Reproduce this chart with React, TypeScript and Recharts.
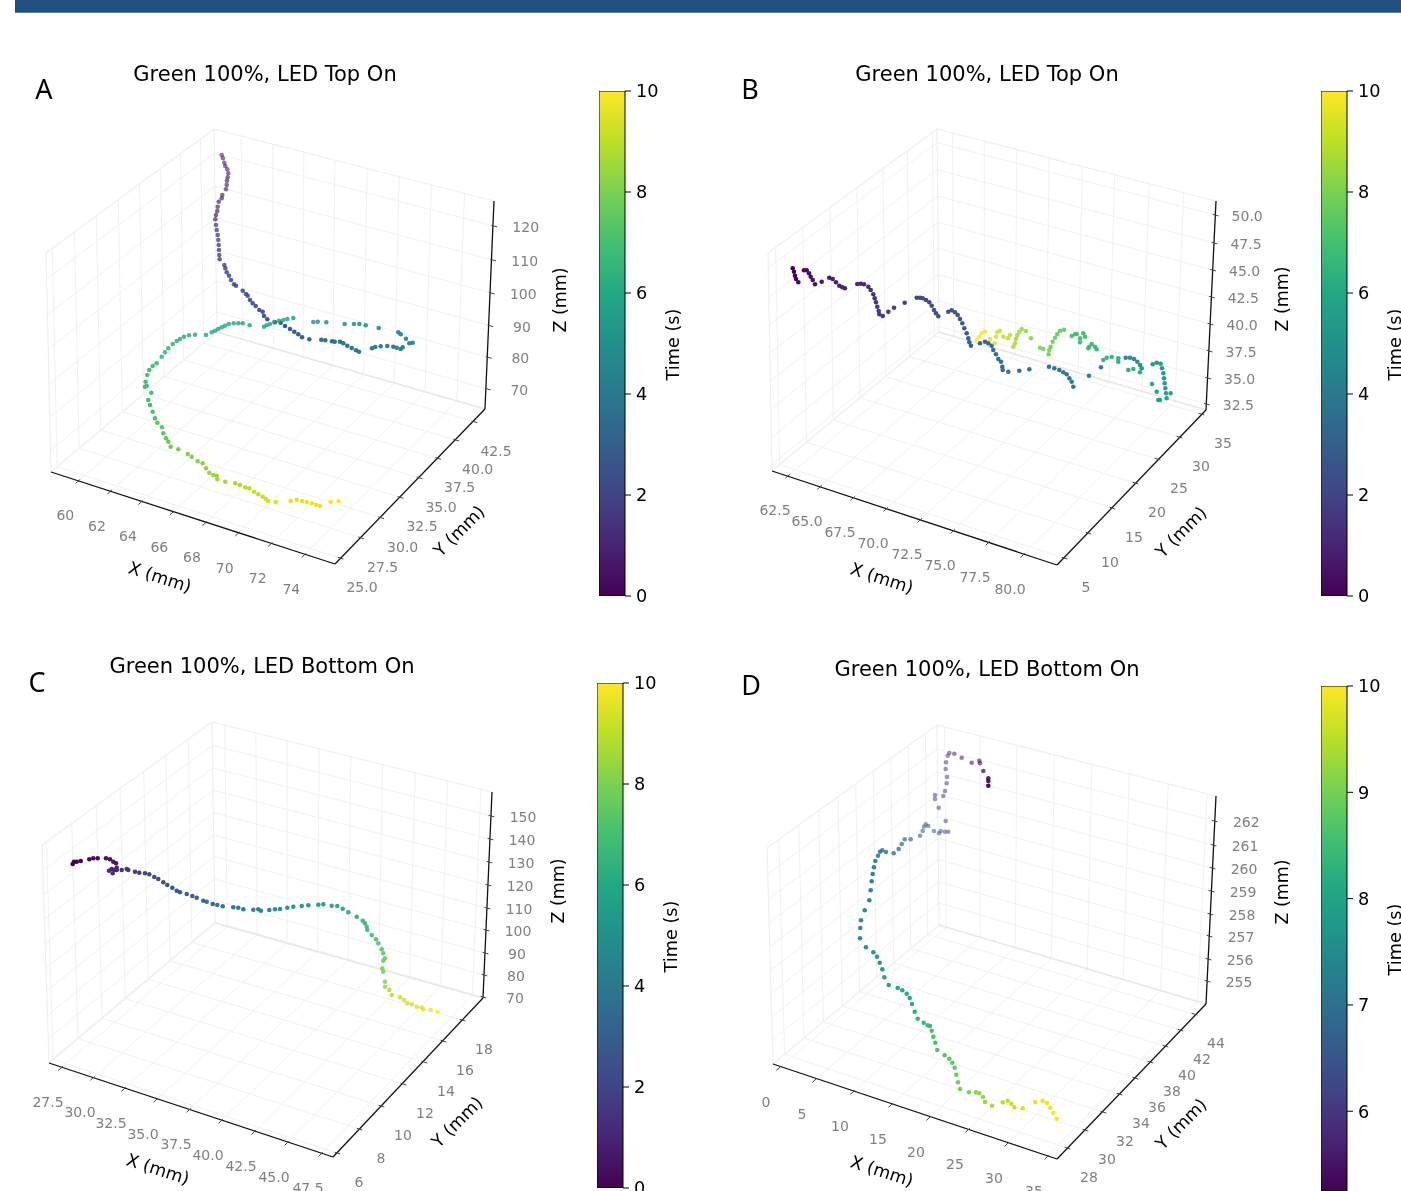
import React from "react";
import {
  Bar,
  BarChart,
  ReferenceArea,
  ReferenceDot,
  ReferenceLine,
  Scatter,
  ScatterChart,
  XAxis,
  YAxis,
} from "recharts";

type Pt = number[];

const W = 1401;
const H = 1191;
const FONT = "'DejaVu Sans', sans-serif";

const viridis = ["#440154", "#482475", "#414487", "#355f8d", "#2a788e", "#21918c", "#22a884", "#44bf70", "#7ad151", "#bddf26", "#fde725"];

// tracks: [x on the page plane, y on the page plane, time in s]
const trackA: Pt[] = [
  [221.7,155,0],[223,158.3,.1],[224.3,162.7,.2],[225.3,166,.3],[227.3,169.3,.4],[228.3,173.3,.5],[227.7,177.3,.6],[227,180.7,.7],[226.7,185,.8],[226,189.3,.9],
  [222.3,195,1],[221.7,198.3,1.05],[218.7,201.7,1.1],[217.7,206.7,1.15],[217.3,211,1.2],[216,215,1.25],[215.3,219.3,1.3],[216,225,1.35],[216.7,230,1.4],[217.7,235,1.45],
  [218.3,240,1.5],[218.7,245,1.55],[219,250,1.6],[219.3,255,1.65],[219.7,259.3,1.7],[224.3,265,1.85],[225.3,268.3,1.9],[226.7,272.3,1.95],[229,275.7,2],[231,280,2.05],
  [234,284.3,2.1],[236,285.7,2.15],[242.7,290.7,2.3],[246,294,2.35],[247.7,295.7,2.4],[250,300,2.45],[252.7,303.3,2.5],[255.7,306,2.55],[259.3,310,2.6],[262.7,311.7,2.7],
  [264,316,2.75],[267.3,319.3,2.8],[275,322.3,2.95],[280.7,322.7,3],[285,326,3.05],[290,329,3.1],[294.3,331.7,3.15],[298.3,334.3,3.2],[302,337.3,3.25],[309.3,339.3,3.35],
  [321.3,339.7,3.45],[325.3,340.3,3.5],[332,341.3,3.55],[334.7,341.7,3.6],[340,341.7,3.65],[343.3,343.3,3.7],[347.3,345.7,3.75],[351.7,348,3.8],[356,350.3,3.85],[359,351.7,3.9],
  [372,348.3,4],[375.3,347,4.05],[380.7,346.3,4.1],[387.3,346,4.15],[393.3,346.7,4.2],[396.7,347.7,4.25],[400.7,349,4.3],[402.7,347.3,4.35],[409.3,343.3,4.45],[412.7,342.7,4.5],
  [406,338.7,4.55],[400.7,334.3,4.6],[398.3,332.3,4.65],[378.7,328,4.8],[365.7,325.3,4.9],[359.3,324,4.95],[354,324,5],[344.7,324,5.05],[326.3,322.3,5.15],[317.7,321.7,5.2],
  [313.3,322,5.25],[293.3,318,5.4],[287.3,319,5.45],[283.3,320,5.5],[279,320.7,5.55],[274.3,322,5.6],[270,324,5.65],[266.7,325.3,5.7],[264,326.7,5.72],[249.7,325.3,5.8],
  [242.7,323.3,5.85],[238.3,323.3,5.88],[233.7,323.3,5.92],[228.7,324,5.95],[225,325.7,5.97],[221.7,327.3,6],[218.3,329,6.02],[215,330.7,6.05],[211.7,332.3,6.07],[206,335,6.12],
  [195,334.7,6.2],[189,335.3,6.25],[184,336.7,6.3],[180,339,6.33],[176.7,341,6.37],[172.7,344,6.4],[168.3,348.3,6.45],[165,352.3,6.5],[161.7,356.7,6.55],[156.7,363.3,6.6],
  [152.7,366,6.68],[149.3,370,6.72],[147.3,375,6.76],[145.7,381.7,6.8],[145,386.7,6.83],[146.7,386,6.85],[151.3,392.7,6.95],[148.3,400,7.05],[150,405,7.12],[152.7,411.7,7.2],
  [155,418.3,7.3],[157.3,422.7,7.4],[162,427.3,7.5],[163.3,433.3,7.58],[166,438.3,7.65],[168.3,441.7,7.72],[170.7,446.7,7.8],[178.3,449.3,8],[187.7,454,8.12],[191.7,456.7,8.17],
  [197.7,461.3,8.25],[202.7,463.3,8.3],[206,468.3,8.38],[209.3,472.7,8.42],[213.3,475,8.46],[216.7,475.7,8.5],[217.3,479.3,8.55],[225.3,481.7,8.65],[235.3,483.3,8.75],[240,485,8.85],
  [245.3,487.3,8.95],[249.3,488.3,9],[254,491.7,9.08],[258.3,494.3,9.15],[262.7,496.7,9.2],[266,499,9.25],[268,501,9.3],[275.7,502,9.38],[290.7,501,9.5],[296.7,499.7,9.55],
  [302,501,9.62],[306.7,502,9.67],[311.7,503.3,9.72],[316,504.7,9.78],[320,506,9.82],[330.7,502,9.92],[338.7,501.3,10],
];

const trackB: Pt[] = [
  [792.7,268.3,0],[794,271.7,.05],[795,275.7,.1],[796,279,.15],[798.3,282.3,.2],[804,270.3,.3],[806.7,270.3,.35],[809,273.3,.4],[810.7,276.7,.45],[812.7,280,.5],
  [815,284.3,.55],[821.7,281.7,.65],[829.3,277.7,.75],[832.7,279,.8],[836,282.3,.85],[839.3,285.7,.9],[842.3,287.3,.95],[845,288.3,1],[857.3,284,1.1],[860.7,283.7,1.12],
  [864,284.3,1.15],[868.3,286.7,1.2],[870.7,290,1.25],[873.3,294.3,1.3],[874.7,298.3,1.35],[876,302.3,1.4],[877.3,306.7,1.45],[878.7,311,1.5],[879.3,314.3,1.55],[882.7,316,1.6],
  [888.3,311.7,1.7],[894,307.7,1.75],[904.7,302.7,1.85],[916.7,297.7,1.95],[920,297.7,2],[922.7,298.3,2.05],[926,300,2.1],[929.3,302.3,2.15],[931.7,305.7,2.2],[934,310,2.25],
  [936,313.3,2.3],[938.3,316.3,2.35],[948.3,311.7,2.45],[951.7,310.3,2.5],[955,312.3,2.55],[957.7,315,2.6],[960,319,2.65],[962.3,323.3,2.7],[964.3,328.3,2.75],[966.7,333.3,2.8],
  [968.3,338.3,2.85],[969.3,342.3,2.9],[971,345.7,2.95],[980,343.3,3.05],[985,341.7,3.1],[988.3,343.3,3.15],[991.7,345.7,3.2],[993.3,350,3.25],[996,354.3,3.3],[998.3,359,3.35],
  [1001,361.7,3.4],[1002.3,366.7,3.45],[1002.7,370,3.5],[1008.3,371.7,3.55],[1019.3,370.7,3.6],[1029.3,369.3,3.65],[1049,366.7,3.7],[1054.3,368.3,3.72],[1059.3,370,3.75],[1063.3,372.3,3.78],
  [1066.7,374.3,3.8],[1069.3,378.3,3.85],[1071.7,381.7,3.9],[1073.3,386.7,3.95],[1089,375.7,4.05],[1101,367.3,4.2],[1125.7,357.7,4.5],[1130,357.7,4.52],[1134,359,4.55],[1137.3,361.7,4.6],
  [1140,365,4.65],[1141.7,368.3,4.7],[1152.7,364.3,5],[1156.7,362.7,5.02],[1160.7,363.7,5.05],[1162,368.3,5.1],[1163.3,373.3,5.15],[1164,378.3,5.2],[1164.7,383.3,5.25],[1165.3,388.3,5.3],
  [1166,393.3,5.35],[1166.7,398.3,5.4],[1158.3,400,5.45],[1160,400,5.47],[1170.7,393.3,5.5],[1156.7,391.7,5.6],[1152,384,5.7],[1140,372.3,5.9],[1133.3,369,5.95],[1128.3,370,6],
  [1118.3,358.3,6.1],[1118.3,361.7,6.1],[1111.7,357,6.2],[1106.7,357.7,6.25],[1103.3,360,6.3],[1096.7,349.3,6.5],[1095,346.7,6.55],[1091.7,344,6.6],[1088.3,348.3,6.65],[1089.3,346.7,6.65],
  [1080,342.3,6.75],[1085,336.7,6.78],[1083.3,333.3,6.8],[1080,338.3,6.85],[1076.7,334,6.9],[1075,334.3,6.92],[1071.7,336,6.95],[1064,329.7,7.5],[1060,330.7,7.55],[1057.3,334,7.6],
  [1055,337.7,7.65],[1052.7,341.7,7.7],[1050.7,346.7,7.75],[1049.3,350,7.8],[1048.7,354.3,7.85],[1043.3,349,7.95],[1040,347.7,8],[1031,338.3,8.15],[1026,331,8.4],[1021.7,329,8.45],
  [1019.3,331.7,8.5],[1017.3,335,8.55],[1016,339,8.6],[1015,343.3,8.65],[1013.3,346.7,8.7],[1010,335,8.9],[1007.7,338.3,8.95],[1003.3,336.7,9],[1000,330.7,9.2],[997.3,332.3,9.25],
  [996,336.7,9.3],[994.7,343.3,9.35],[990,339,9.5],[985,331.7,9.8],[981.7,333.3,9.85],[979.3,336.7,9.9],[976.7,340,10],
];

const trackC: Pt[] = [
  [72.7,864,0],[74,861.7,.05],[76.7,861.7,.1],[80.7,861,.15],[89.3,859.3,.25],[93.3,858.3,.3],[97.7,858.3,.35],[106,858.3,.5],[110,859.3,.55],[113.3,861.7,.6],
  [116,863.3,.65],[116.7,867.7,.75],[115,870,.85],[111.7,869,.95],[109,870.7,1.05],[112.7,873.3,1.15],[116.7,870,1.25],[121.7,870,1.35],[126.7,869,1.5],[128.3,870,1.55],
  [135,871.7,1.7],[139.3,872.7,1.8],[145,873.3,1.9],[149.3,874.3,2],[154.3,877,2.1],[158.3,879,2.2],[163.3,882.3,2.3],[167.3,885,2.4],[172.3,887.7,2.5],[176.7,890.7,2.6],
  [180,892.3,2.7],[186.7,894,2.85],[192.3,896,3],[196.7,897.7,3.1],[203.3,900.7,3.25],[206.7,901.7,3.3],[212.7,904,3.45],[217.3,905,3.55],[222.7,906.3,3.65],[233.3,907.3,3.85],
  [238.3,907.7,3.95],[243.3,909.3,4.05],[253.3,909.7,4.25],[258.3,909.3,4.35],[261,910.7,4.45],[269.3,910,4.6],[275,909.3,4.7],[280,909,4.8],[287.3,907.7,4.95],[293.3,906.7,5.05],
  [301.7,906,5.2],[308.3,905.3,5.3],[318.3,904.7,5.45],[323.3,904.3,5.55],[331.7,905.7,5.7],[337.3,906,5.8],[342.7,908.7,5.9],[348.3,912.3,6.05],[356.7,916.7,6.25],[362.7,920.7,6.4],
  [365,923.3,6.5],[366.7,926.7,6.6],[367.3,930,6.7],[371.7,935,6.85],[376,939.3,7],[378.3,943.3,7.1],[381.7,949.3,7.25],[383.3,953.3,7.35],[385,958.3,7.5],[383.3,960.7,7.6],
  [382.3,968.3,7.9],[383.3,971.7,8],[385,981.7,8.3],[385,986.7,8.5],[389.3,990,8.7],[391.7,995,8.85],[400,997.3,9.05],[404,1000,9.15],[407.3,1003.3,9.25],[411.7,1004.3,9.3],
  [416.7,1006.7,9.45],[421.7,1007.3,9.55],[423.3,1009.3,9.6],[430.7,1010,9.8],[437.7,1011.7,9.98],
];

const trackD: Pt[] = [
  [988.3,785.7,5.27],[988.3,781,5.28],[988.3,778.3,5.29],[983.3,771,5.35],[980,763.3,5.4],[979.3,760.7,5.42],[971.7,762.7,5.48],[961.7,757.7,5.55],[954.3,753.7,5.6],[949.3,753,5.65],
  [947.7,755.7,5.7],[946,762.3,5.75],[945.7,769,5.8],[947,777,5.85],[946.7,783.3,5.9],[945,791,5.95],[943.3,796,6],[935,795,6.05],[935,799,6.08],[938.7,807.7,6.15],
  [945.7,821,6.2],[948.3,831.7,6.25],[945,831.7,6.28],[940.7,831,6.32],[939,833.3,6.35],[934,831,6.4],[928.3,826,6.45],[925.7,824.3,6.48],[924,826.7,6.5],[922.7,831,6.55],
  [920,835.7,6.6],[910.7,839.3,6.7],[904.7,839.3,6.75],[901.7,844,6.8],[898.7,849,6.85],[893.7,853.3,6.9],[886,852,6.95],[882.3,850.3,7],[880,851.7,7.03],[878,855.7,7.05],
  [875.3,861,7.1],[874,867.3,7.15],[872.7,874,7.2],[871.7,881.3,7.25],[870.7,890.3,7.3],[869.3,900.3,7.35],[864.7,910.3,7.4],[861,920.3,7.45],[860.3,928,7.47],[860,938.3,7.5],
  [866,947.3,7.55],[873.3,952.3,7.6],[877,956.7,7.65],[879.7,962.7,7.7],[882.3,969.3,7.75],[884.3,977.3,7.85],[888.7,985,7.95],[897.7,988,8],[902.3,990.3,8.05],[906.7,993.7,8.1],
  [909.7,998,8.15],[912,1004,8.2],[914.7,1011.7,8.25],[917.7,1018.7,8.3],[923.7,1022.7,8.35],[927.7,1025.3,8.4],[930,1026,8.45],[931.7,1030.7,8.5],[933.3,1036.7,8.55],[935.3,1042.7,8.6],
  [937.3,1050,8.65],[944.7,1055.3,8.7],[949.3,1058.7,8.75],[952.3,1062.7,8.8],[954.7,1067.7,8.85],[956.3,1074.7,8.9],[958,1082.3,8.95],[960,1089,9],[969,1092.3,9.05],[976,1092.3,9.15],
  [979.3,1093.3,9.2],[983,1097,9.25],[985,1102,9.3],[992,1105.7,9.4],[1002.7,1102.3,9.5],[1007.7,1100.7,9.55],[1011.3,1103.7,9.6],[1014.3,1107.3,9.65],[1022.7,1108.3,9.7],[1035.3,1102,9.8],
  [1042.7,1100.7,9.85],[1047,1103,9.9],[1050.3,1107.7,9.93],[1053.3,1112.7,9.97],[1056.7,1118.7,10],
];

const xLabelsA = ["60", "62", "64", "66", "68", "70", "72", "74"];
const yLabelsA = ["25.0", "27.5", "30.0", "32.5", "35.0", "37.5", "40.0", "42.5"];
const zLabelsA = ["70", "80", "90", "100", "110", "120"];
const xLabelsB = ["62.5", "65.0", "67.5", "70.0", "72.5", "75.0", "77.5", "80.0"];
const yLabelsB = ["5", "10", "15", "20", "25", "30", "35"];
const zLabelsB = ["32.5", "35.0", "37.5", "40.0", "42.5", "45.0", "47.5", "50.0"];
const xLabelsC = ["27.5", "30.0", "32.5", "35.0", "37.5", "40.0", "42.5", "45.0", "47.5"];
const yLabelsC = ["6", "8", "10", "12", "14", "16", "18"];
const zLabelsC = ["70", "80", "90", "100", "110", "120", "130", "140", "150"];
const xLabelsD = ["0", "5", "10", "15", "20", "25", "30", "35"];
const yLabelsD = ["28", "30", "32", "34", "36", "38", "40", "42", "44"];
const zLabelsD = ["255", "256", "257", "258", "259", "260", "261", "262"];

const timeTicks = [0, 2, 4, 6, 8, 10];
const timeTicksD = [6, 7, 8, 9, 10];

const panels = [
  {
    letter: "A", letterAt: [44, 88], title: "Green 100%, LED Top On", titleAt: [265, 74],
    track: trackA, tMin: 0, tMax: 10, fade: [[0, .55], [1.8, .8], [3, 1], [4.5, .95], [5.5, .8], [6.5, .85], [7, 1], [10, 1]],
    fl: [51, 472], fr: [335, 564], br: [485, 409], bl: [217, 332], blt: [214, 129], rt: [494, 201], lt: [46, 253],
    xAt: [[78.3,481],[110,491.7],[141,502.3],[172.3,512.7],[205,523.3],[237.7,533.7],[270.7,544],[304.3,555]],
    yAt: [[340,558],[360.7,537.7],[380.7,517.7],[400,497.3],[419,477.7],[437.7,458.3],[455.7,440],[474,421.7]],
    zAt: [[487.3,389],[488.3,357.3],[490,325.7],[491.3,293],[492.7,260],[493.7,226]],
    xLabels: xLabelsA, yLabels: yLabelsA, zLabels: zLabelsA,
    xNameAt: [160, 577], yNameAt: [459, 531], zNameAt: [560, 300],
    bar: { x: 599, y: 91, ticks: timeTicks },
  },
  {
    letter: "B", letterAt: [750, 88], title: "Green 100%, LED Top On", titleAt: [987, 74],
    track: trackB, tMin: 0, tMax: 10, fade: [[0, 1], [5, .95], [8, .9], [10, .8]],
    fl: [772, 471], fr: [1057, 565], br: [1206, 410], bl: [939, 332], blt: [937, 129], rt: [1216, 201], lt: [768, 253],
    xAt: [[788,476],[820,487],[853,498],[886,509],[920,520],[953,531],[988,543],[1023,555]],
    yAt: [[1064,558],[1088,533],[1112,508],[1135,483],[1157,459],[1179,437],[1201,414]],
    zAt: [[1206.4,404],[1207.6,378],[1209,351],[1210,324],[1211.3,297],[1212.6,270],[1214,243],[1215.2,215]],
    xLabels: xLabelsB, yLabels: yLabelsB, zLabels: zLabelsB,
    xNameAt: [882, 578], yNameAt: [1181, 532], zNameAt: [1282, 299],
    bar: { x: 1321, y: 91, ticks: timeTicks },
  },
  {
    letter: "C", letterAt: [37, 681], title: "Green 100%, LED Bottom On", titleAt: [262, 666],
    track: trackC, tMin: 0, tMax: 10, fade: [[0, 1], [5, .95], [10, .8]],
    fl: [49, 1063], fr: [333, 1157], br: [483, 998], bl: [215, 923], blt: [212, 722], rt: [492, 792], lt: [42, 845],
    xAt: [[61,1068],[93,1078],[124,1089],[156,1100],[189,1110],[221,1121],[254,1132],[287,1143],[321,1154]],
    yAt: [[337,1153],[359,1129],[381,1106],[403,1084],[424,1062],[443,1041],[462,1020]],
    zAt: [[483,997],[484,975],[485,953],[486,930],[487,908],[488,885],[489,862],[490,839],[491,816]],
    xLabels: xLabelsC, yLabels: yLabelsC, zLabels: zLabelsC,
    xNameAt: [158, 1169], yNameAt: [457, 1122], zNameAt: [558, 891],
    bar: { x: 597, y: 683, ticks: timeTicks },
  },
  {
    letter: "D", letterAt: [751, 684], title: "Green 100%, LED Bottom On", titleAt: [987, 669],
    track: trackD, tMin: 5.25, tMax: 10, fade: [[5.25, 1], [5.4, .6], [5.7, .5], [6.5, .55], [7.2, .95], [10, 1]],
    fl: [773, 1064], fr: [1057, 1159], br: [1206, 1004], bl: [939, 925], blt: [937, 725], rt: [1216, 796], lt: [767, 848],
    xAt: [[779,1068],[815,1080],[853,1092],[891,1105],[929,1118],[968,1130],[1007,1144],[1047,1157]],
    yAt: [[1067,1148],[1085,1130],[1103,1112],[1119,1094],[1135,1078],[1150,1062],[1165,1046],[1180,1030],[1194,1014]],
    zAt: [[1207,981],[1208,959],[1209,936],[1210,914],[1211,891],[1212,868],[1213,845],[1214.3,821]],
    xLabels: xLabelsD, yLabels: yLabelsD, zLabels: zLabelsD,
    xNameAt: [882, 1171], yNameAt: [1181, 1124], zNameAt: [1282, 892],
    bar: { x: 1321, y: 686, ticks: timeTicksD },
  },
];

const mix = (a: string, b: string, f: number) => {
  const c = (s: string, i: number) => parseInt(s.slice(i, i + 2), 16);
  const ch = (i: number) => Math.round(c(a, i) + (c(b, i) - c(a, i)) * f).toString(16).padStart(2, "0");
  return "#" + ch(1) + ch(3) + ch(5);
};

const viridisAt = (v: number) => {
  const p = Math.min(Math.max(v, 0), 1) * (viridis.length - 1);
  const i = Math.min(Math.floor(p), viridis.length - 2);
  return mix(viridis[i], viridis[i + 1], p - i);
};

const fadeAt = (stops: number[][], t: number) => {
  for (let i = 1; i < stops.length; i++) {
    if (t <= stops[i][0]) {
      const f = (t - stops[i - 1][0]) / (stops[i][0] - stops[i - 1][0]);
      return stops[i - 1][1] + (stops[i][1] - stops[i - 1][1]) * Math.max(f, 0);
    }
  }
  return stops[stops.length - 1][1];
};

// where line ab crosses line cd
const meet = (a: Pt, b: Pt, c: Pt, d: Pt): Pt => {
  const d1 = [b[0] - a[0], b[1] - a[1]];
  const d2 = [d[0] - c[0], d[1] - c[1]];
  const den = d1[0] * d2[1] - d1[1] * d2[0];
  const s = ((c[0] - a[0]) * d2[1] - (c[1] - a[1]) * d2[0]) / den;
  return [a[0] + d1[0] * s, a[1] + d1[1] * s];
};

const GRID = "#f1f1f1";
const EDGE = "#efefef";
const TICK = "#444444";
const AXIS = "#111111";

function Seg(key: string, a: Pt, b: Pt, stroke: string, width: number) {
  return (
    <ReferenceLine
      key={key}
      segment={[{ x: a[0], y: a[1] }, { x: b[0], y: b[1] }]}
      stroke={stroke}
      strokeWidth={width}
      ifOverflow="visible"
    />
  );
}

function Txt(key: string, at: Pt, value: string, size: number, fill: string, angle = 0, family = FONT) {
  return (
    <ReferenceDot
      key={key}
      x={at[0]}
      y={at[1]}
      r={0}
      ifOverflow="visible"
      shape={(p: any) => (
        <text
          x={p.cx}
          y={p.cy}
          textAnchor="middle"
          dominantBaseline="central"
          fontFamily={family}
          fontSize={size}
          fill={fill}
          transform={angle ? `rotate(${angle} ${p.cx} ${p.cy})` : undefined}
        >
          {value}
        </text>
      )}
    />
  );
}

function frame(p: (typeof panels)[number]) {
  const { fl, fr, br, bl, blt, rt, lt } = p;
  const out: React.ReactNode[] = [];
  const vy = meet(fl, bl, fr, br);
  const vx = meet(fl, fr, bl, br);
  const vzBack = meet(bl, blt, br, rt);
  const vzLeft = meet(fl, lt, bl, blt);
  const vxBack = meet(br, bl, rt, blt);
  const vyLeft = meet(bl, fl, blt, lt);
  const k = p.letter;

  const tick = (key: string, t: Pt, to: Pt) => {
    const len = Math.hypot(to[0] - t[0], to[1] - t[1]);
    const u = [(to[0] - t[0]) / len, (to[1] - t[1]) / len];
    return Seg(key, [t[0] + u[0] * 2.5, t[1] + u[1] * 2.5], [t[0] - u[0] * 3.5, t[1] - u[1] * 3.5], TICK, 1);
  };

  p.xAt.forEach((t, i) => {
    const a = meet(t, vy, bl, br);
    const b = meet(a, vzBack, blt, rt);
    out.push(Seg(`${k}xg${i}`, t, a, GRID, 1), Seg(`${k}xw${i}`, a, b, GRID, 1));
  });
  p.yAt.forEach((t, i) => {
    const a = meet(t, vx, fl, bl);
    const b = meet(a, vzLeft, lt, blt);
    out.push(Seg(`${k}yg${i}`, t, a, GRID, 1), Seg(`${k}yw${i}`, a, b, GRID, 1));
  });
  p.zAt.forEach((t, i) => {
    const a = meet(t, vxBack, bl, blt);
    const b = meet(a, vyLeft, fl, lt);
    out.push(Seg(`${k}zg${i}`, t, a, GRID, 1), Seg(`${k}zw${i}`, a, b, GRID, 1));
  });

  out.push(
    Seg(`${k}e1`, fl, bl, EDGE, 1.2),
    Seg(`${k}e2`, bl, br, "#e8e8e8", 1.6),
    Seg(`${k}e3`, bl, blt, EDGE, 1.2),
    Seg(`${k}e4`, blt, rt, EDGE, 1.2),
    Seg(`${k}e5`, blt, lt, EDGE, 1.2),
    Seg(`${k}e6`, lt, fl, EDGE, 1.2),
    Seg(`${k}ax`, fl, fr, AXIS, 1.3),
    Seg(`${k}ay`, fr, br, AXIS, 1.3),
    Seg(`${k}az`, br, rt, AXIS, 1.3),
  );

  p.xAt.forEach((t, i) => {
    out.push(tick(`${k}xt${i}`, t, meet(t, vy, bl, br)));
    out.push(Txt(`${k}xl${i}`, [t[0] - 13, t[1] + 34], p.xLabels[i], 14, "#808080"));
  });
  p.yAt.forEach((t, i) => {
    out.push(tick(`${k}yt${i}`, t, meet(t, vx, fl, bl)));
    out.push(Txt(`${k}yl${i}`, [t[0] + 22, t[1] + 29], p.yLabels[i], 14, "#808080"));
  });
  p.zAt.forEach((t, i) => {
    out.push(tick(`${k}zt${i}`, t, meet(t, vxBack, bl, blt)));
    out.push(Txt(`${k}zl${i}`, [t[0] + 32, t[1] + 1], p.zLabels[i], 14, "#808080"));
  });

  out.push(
    Txt(`${k}xn`, p.xNameAt, "X (mm)", 17.4, "#000", 18),
    Txt(`${k}yn`, p.yNameAt, "Y (mm)", 17.4, "#000", -45),
    Txt(`${k}zn`, p.zNameAt, "Z (mm)", 17.4, "#000", -90),
    Txt(`${k}title`, p.titleAt, p.title, 21, "#000"),
    Txt(`${k}letter`, p.letterAt, p.letter, 27, "#000", 0, "'Noto Sans', sans-serif"),
  );
  return out;
}

function ColorBar({ x, y, ticks, domainMin, id }: { x: number; y: number; ticks: number[]; domainMin: number; id: string }) {
  return (
    <div style={{ position: "absolute", left: x, top: y - 10 }}>
      <BarChart
        width={116}
        height={525}
        data={[{ name: "time", t: 10 }]}
        margin={{ top: 10, right: 0, bottom: 10, left: 0 }}
        barCategoryGap={0}
      >
        <defs>
          <linearGradient id={id} x1="0" y1="1" x2="0" y2="0">
            {viridis.map((c, i) => (
              <stop key={c} offset={i / (viridis.length - 1)} stopColor={c} />
            ))}
          </linearGradient>
        </defs>
        <XAxis dataKey="name" hide />
        <YAxis
          orientation="right"
          width={90}
          domain={[domainMin, 10]}
          ticks={ticks}
          interval={0}
          allowDataOverflow
          axisLine={false}
          tickSize={6}
          tickMargin={5}
          tickLine={{ stroke: "#000" }}
          tick={{ fill: "#000", fontSize: 17.7, fontFamily: FONT }}
          label={{ value: "Time (s)", angle: -90, position: "center", dx: 3, dy: 1, fill: "#000", fontSize: 17.7, fontFamily: FONT }}
        />
        <Bar dataKey="t" fill={`url(#${id})`} stroke="#000" strokeWidth={1} isAnimationActive={false} />
      </BarChart>
    </div>
  );
}

export default function App() {
  return (
    <div style={{ position: "absolute", left: 0, top: 0, width: W, height: H, overflow: "hidden", background: "#fff", filter: "blur(0.35px)" }}>
      <ScatterChart width={W} height={H} margin={{ top: 0, right: 0, bottom: 0, left: 0 }}>
        <XAxis type="number" dataKey="x" domain={[0, W]} hide allowDataOverflow />
        <YAxis type="number" dataKey="y" domain={[0, H]} reversed hide allowDataOverflow width={0} />
        <ReferenceArea x1={15} x2={W} y1={0} y2={12.7} fill="#1f5080" fillOpacity={1} stroke="none" ifOverflow="visible" />
        {panels.flatMap(frame)}
        {panels.map((p) => (
          <Scatter
            key={p.letter}
            data={p.track.map(([x, y, t]) => ({ x, y, t }))}
            isAnimationActive={false}
            shape={(s: any) => (
              <circle
                cx={s.cx}
                cy={s.cy}
                r={2.3}
                fill={viridisAt((s.payload.t - p.tMin) / (p.tMax - p.tMin))}
                fillOpacity={fadeAt(p.fade, s.payload.t)}
              />
            )}
          />
        ))}
      </ScatterChart>
      {panels.map((p) => (
        <ColorBar key={p.letter} id={`viridis${p.letter}`} x={p.bar.x} y={p.bar.y} ticks={p.bar.ticks} domainMin={p.tMin} />
      ))}
    </div>
  );
}
